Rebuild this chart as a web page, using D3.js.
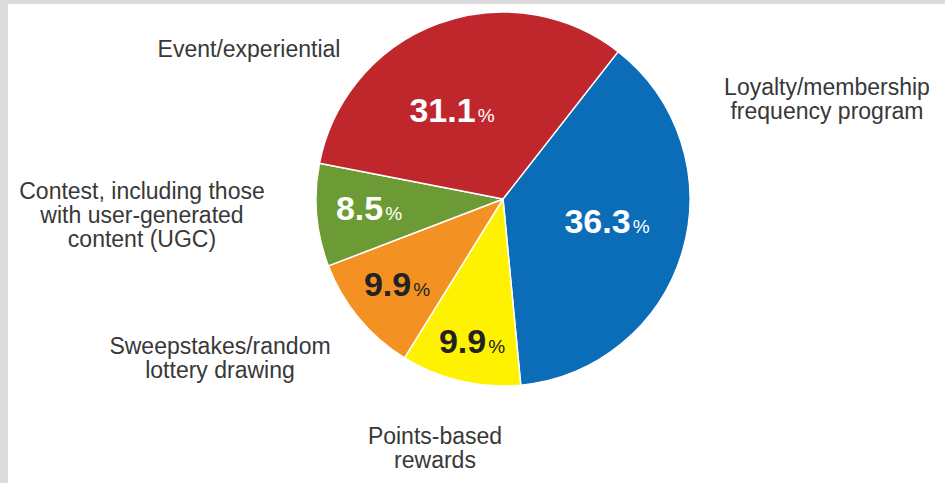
<!DOCTYPE html>
<html>
<head>
<meta charset="utf-8">
<script src="https://cdn.jsdelivr.net/npm/d3@7"></script>
<style>
  html, body { margin: 0; padding: 0; background: #ffffff; }
  svg { display: block; }
  text { font-family: "Liberation Sans", Arial, Helvetica, sans-serif; }
</style>
</head>
<body>
<svg id="chart" width="945" height="483"></svg>
<script>
// Promotion types, in drawing order (clockwise from the upper right)
const categories = [
  "Loyalty/membership\nfrequency program",
  "Points-based\nrewards",
  "Sweepstakes/random\nlottery drawing",
  "Contest, including those\nwith user-generated\ncontent (UGC)",
  "Event/experiential"
];
const shares = [36.3, 9.9, 9.9, 8.5, 31.1];
const sliceColors = ["#0b6db8", "#fef200", "#f39222", "#6c9a34", "#c0272d"];
const valueColors = ["#ffffff", "#222222", "#222222", "#ffffff", "#ffffff"];

// Text placement: value labels inside slices, category names outside
const valuePos = [[607, 233], [472, 353], [397, 296], [369, 220], [452, 122]];
const namePos = [[827, 95], [435, 444], [220, 354], [142, 199], [249, 57]];

const svg = d3.select("#chart");
const W = 945, H = 483;

// light grey frame along the top and left edges
svg.append("rect").attr("x", 0).attr("y", 0).attr("width", W).attr("height", H).attr("fill", "#dcdcdc");
svg.append("rect").attr("x", 8).attr("y", 4).attr("width", W - 8).attr("height", H - 4).attr("fill", "#ffffff");

const cx = 503, cy = 199, r = 187;
const startDeg = 38;

const pie = d3.pie()
  .sort(null)
  .value(d => d)
  .startAngle(startDeg * Math.PI / 180)
  .endAngle((startDeg + 360) * Math.PI / 180);

const arc = d3.arc().innerRadius(0).outerRadius(r);

const g = svg.append("g").attr("transform", `translate(${cx},${cy})`);
g.selectAll("path.slice")
  .data(pie(shares))
  .join("path")
  .attr("class", "slice")
  .attr("d", arc)
  .attr("fill", (d, i) => sliceColors[i])
  .attr("stroke", "#ffffff")
  .attr("stroke-width", 1.5)
  .attr("stroke-linejoin", "round");

// value labels: bold number with a small percent sign
const vl = svg.selectAll("text.value")
  .data(shares)
  .join("text")
  .attr("class", "value")
  .attr("x", (d, i) => valuePos[i][0])
  .attr("y", (d, i) => valuePos[i][1])
  .attr("text-anchor", "middle")
  .attr("fill", (d, i) => valueColors[i]);
vl.append("tspan")
  .attr("font-size", 34)
  .attr("font-weight", "bold")
  .text(d => d.toFixed(1));
vl.append("tspan")
  .attr("font-size", 19)
  .attr("dx", 2)
  .text("%");

// category names, multi-line and centred
svg.selectAll("text.name")
  .data(categories)
  .join("text")
  .attr("class", "name")
  .attr("text-anchor", "middle")
  .attr("font-size", 23)
  .attr("fill", "#383838")
  .each(function (d, i) {
    const t = d3.select(this);
    d.split("\n").forEach((line, k) => {
      t.append("tspan")
        .attr("x", namePos[i][0])
        .attr("y", namePos[i][1] + k * 24)
        .text(line);
    });
  });
</script>
</body>
</html>
